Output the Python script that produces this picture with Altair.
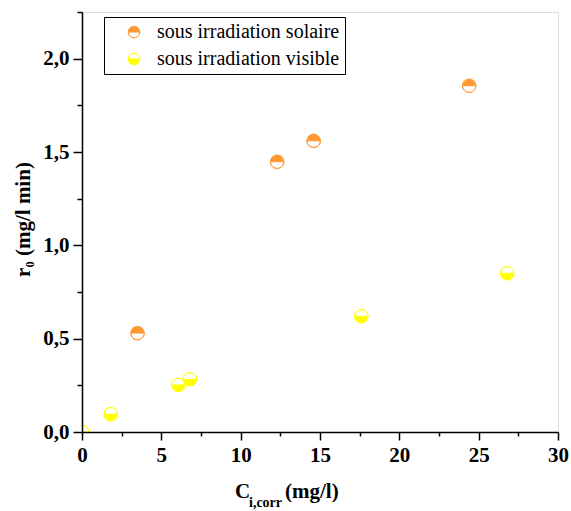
import altair as alt
import pandas as pd

# Initial rate r0 versus corrected initial concentration, two irradiation modes
solaire_c = [3.5, 12.3, 14.6, 24.4]
solaire_r = [0.53, 1.448, 1.56, 1.855]
visible_c = [0.0, 1.81, 6.07, 6.8, 17.6, 26.8]
visible_r = [0.0, 0.095, 0.252, 0.282, 0.62, 0.85]

series_names = ["sous irradiation solaire", "sous irradiation visible"]
series_colors = ["#FF9933", "#FFFF00"]

# Half-filled circle symbols: an outer circle plus an opposite-wound half,
# so that (nonzero rule) only the other half is painted.
TOP_FILLED = ("M -1 0 A 1 1 0 0 1 1 0 A 1 1 0 0 1 -1 0 Z "
              "M -1 0 A 1 1 0 0 0 1 0 Z")
BOTTOM_FILLED = ("M -1 0 A 1 1 0 0 1 1 0 A 1 1 0 0 1 -1 0 Z "
                 "M 1 0 A 1 1 0 0 0 -1 0 Z")

df = pd.concat([
    pd.DataFrame({"c": solaire_c, "r": solaire_r, "serie": series_names[0]}),
    pd.DataFrame({"c": visible_c, "r": visible_r, "serie": series_names[1]}),
])

FONT = "Liberation Serif"

x_scale = alt.Scale(domain=[0, 30], nice=False, zero=False)
y_scale = alt.Scale(domain=[0, 2.25], nice=False, zero=False)

x_axis = alt.Axis(
    values=[i * 2.5 for i in range(13)],
    labelExpr="datum.value % 5 === 0 ? datum.label : ''",
    tickSize={"condition": {"test": "datum.value % 5 === 0", "value": 8}, "value": 4},
    title=None, grid=False, domainColor="black", tickColor="black",
    domainWidth=1.5, tickWidth=1.5, labelFont=FONT, labelFontSize=21,
    labelFontWeight="bold", labelColor="black", labelPadding=4, zindex=1,
    labelFlush=False, labelOverlap=False,
)
y_axis = alt.Axis(
    values=[i * 0.25 for i in range(10)],
    labelExpr="abs(datum.value * 2 - round(datum.value * 2)) < 1e-6 ? "
              "replace(format(datum.value, '.1f'), '.', ',') : ''",
    tickSize={"condition": {"test": "abs(datum.value * 2 - round(datum.value * 2)) < 1e-6",
                            "value": 9}, "value": 5},
    title="r\u2080 (mg/l min)", titleFont=FONT, titleFontSize=21,
    titleFontWeight="bold", titleColor="black", titleAngle=-90,
    titleX=-59, titleY=207, titleAlign="center", titleBaseline="middle",
    grid=False, domainColor="black", tickColor="black",
    domainWidth=1.5, tickWidth=1.5, labelFont=FONT, labelFontSize=21,
    labelFontWeight="bold", labelColor="black", labelPadding=4, zindex=1,
    labelFlush=False, labelOverlap=False,
)

points = alt.Chart(df).mark_point(
    filled=True, size=180, strokeWidth=1, opacity=1, clip=True
).encode(
    x=alt.X("c:Q", scale=x_scale, axis=x_axis),
    y=alt.Y("r:Q", scale=y_scale, axis=y_axis),
    fill=alt.Fill("serie:N", scale=alt.Scale(domain=series_names, range=series_colors),
                  legend=alt.Legend(title=None)),
    stroke=alt.Stroke("serie:N", scale=alt.Scale(domain=series_names, range=series_colors),
                      legend=alt.Legend(title=None)),
    shape=alt.Shape("serie:N", scale=alt.Scale(domain=series_names,
                                               range=[TOP_FILLED, BOTTOM_FILLED]),
                    legend=alt.Legend(
                        title=None, orient="none", legendX=22, legendY=5,
                        strokeColor="black", fillColor="white", padding=5,
                        symbolSize=135, symbolStrokeWidth=1, symbolOffset=15,
                        labelFont=FONT, labelFontSize=20, labelColor="black",
                        labelOffset=13, rowPadding=7, labelLimit=400,
                    )),
)

def label(text, dx, dy, size):
    return alt.Chart(alt.Data(values=[{}])).mark_text(
        text=text, font=FONT, fontSize=size, fontWeight="bold", color="black",
        align="left", baseline="alphabetic",
    ).encode(x=alt.value(dx), y=alt.value(dy))

x_title = label("C", 153, 486, 21) + label("i,corr", 167, 495, 14) + label("(mg/l)", 203, 486, 21)

chart = alt.layer(points, x_title).properties(
    width=476, height=420,
    autosize=alt.AutoSizeParams(type="none"),
    padding={"left": 82, "top": 12, "right": 13, "bottom": 79},
).configure_view(stroke=None).configure(background="white")

chart.save("out.html", embed_options={"renderer": "svg", "actions": False})
